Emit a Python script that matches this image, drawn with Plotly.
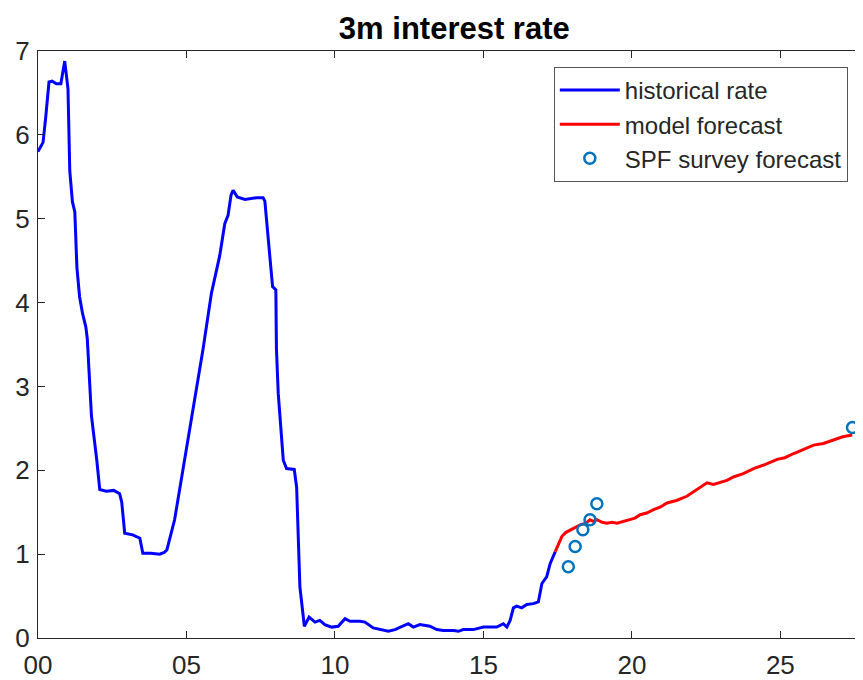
import plotly.graph_objects as go

# Historical 3m rate (x = years since 2000)
hist_x = [0.00, 0.17, 0.26, 0.37, 0.48, 0.62, 0.77, 0.90, 1.01, 1.07, 1.16, 1.24, 1.31, 1.40, 1.50,
          1.61, 1.66, 1.80, 1.98, 2.08, 2.30, 2.55, 2.75, 2.82, 2.92, 3.19, 3.43, 3.53, 3.80, 4.10,
          4.25, 4.34, 4.60, 4.94, 5.11, 5.35, 5.56, 5.84, 6.05, 6.12, 6.29, 6.40, 6.50, 6.57, 6.71,
          6.97, 7.36, 7.58, 7.64, 7.75, 7.81, 7.90, 8.01, 8.03, 8.09, 8.26, 8.37, 8.63, 8.71, 8.82,
          8.97, 9.13, 9.33, 9.49, 9.66, 9.89, 10.11, 10.34, 10.51, 10.84, 11.01, 11.29, 11.57, 11.80,
          12.02, 12.25, 12.47, 12.64, 12.86, 13.20, 13.43, 13.65, 13.99, 14.16, 14.32, 14.66, 15.00,
          15.45, 15.67, 15.79, 15.90, 16.01, 16.12, 16.29, 16.46, 16.68, 16.85, 16.97, 17.13, 17.25,
          17.42]
hist_y = [5.80, 5.91, 6.21, 6.63, 6.64, 6.61, 6.61, 6.88, 6.55, 5.57, 5.20, 5.08, 4.42, 4.07, 3.87,
          3.71, 3.57, 2.65, 2.12, 1.77, 1.75, 1.76, 1.72, 1.62, 1.25, 1.23, 1.19, 1.01, 1.01, 1.00,
          1.02, 1.05, 1.41, 2.12, 2.50, 3.02, 3.45, 4.11, 4.46, 4.56, 4.94, 5.04, 5.28, 5.34, 5.26,
          5.23, 5.25, 5.25, 5.21, 4.82, 4.54, 4.19, 4.15, 3.45, 2.92, 2.12, 2.02, 2.01, 1.80, 0.61,
          0.14, 0.25, 0.19, 0.21, 0.16, 0.13, 0.14, 0.23, 0.20, 0.20, 0.19, 0.12, 0.10, 0.08,
          0.10, 0.14, 0.17, 0.13, 0.16, 0.14, 0.10, 0.09, 0.09, 0.08, 0.10, 0.10, 0.13,
          0.13, 0.17, 0.13, 0.21, 0.36, 0.38, 0.36, 0.40, 0.41, 0.43, 0.65, 0.73, 0.89,
          1.03]

# Model forecast
fc_x = [17.42, 17.47, 17.56, 17.64, 17.78, 17.92, 18.10, 18.26, 18.45, 18.59, 18.70, 18.82, 19.00,
        19.16, 19.33, 19.50, 19.70, 19.89, 20.10, 20.28, 20.50, 20.73, 20.95, 21.18, 21.50, 21.85,
        22.20, 22.53, 22.75, 22.98, 23.20, 23.42, 23.75, 24.10, 24.50, 24.89, 25.15, 25.45, 25.80,
        26.12, 26.45, 26.80, 27.10, 27.42]
fc_y = [1.03, 1.07, 1.15, 1.21, 1.26, 1.29, 1.32, 1.35, 1.37, 1.41, 1.39, 1.41, 1.38,
        1.37, 1.38, 1.37, 1.39, 1.41, 1.43, 1.47, 1.49, 1.53, 1.56, 1.61, 1.64, 1.69,
        1.77, 1.85, 1.83, 1.86, 1.88, 1.92, 1.96, 2.02, 2.07, 2.13, 2.15, 2.20, 2.25,
        2.30, 2.32, 2.36, 2.40, 2.42]

# SPF survey forecast
spf_x = [17.86, 18.09, 18.35, 18.59, 18.82, 27.43]
spf_y = [0.85, 1.09, 1.29, 1.41, 1.60, 2.51]

x_tickvals = [0, 5, 10, 15, 20, 25]
x_ticktext = ["00", "05", "10", "15", "20", "25"]
y_tickvals = [0, 1, 2, 3, 4, 5, 6, 7]

FONT = "Liberation Sans, Arial, sans-serif"
AX = "#262626"

fig = go.Figure()
fig.add_trace(go.Scatter(x=hist_x, y=hist_y, mode="lines", name="historical rate",
                         line=dict(color="#0000FF", width=3)))
fig.add_trace(go.Scatter(x=fc_x, y=fc_y, mode="lines", name="model forecast",
                         line=dict(color="#FF0000", width=3)))
fig.add_trace(go.Scatter(x=spf_x, y=spf_y, mode="markers", name="SPF survey forecast",
                         marker=dict(symbol="circle-open", size=11, color="#0072BD",
                                     line=dict(width=2.5, color="#0072BD"))))

# page body has an 8px margin, so the figure is sized to the remaining viewport
fig.update_layout(
    width=855, height=672,
    margin=dict(l=30, r=1, t=43, b=42, autoexpand=False),
    paper_bgcolor="white", plot_bgcolor="white",
    title=dict(text="<b>3m interest rate</b>", x=0.522, xanchor="center", y=0.986, yanchor="top",
               font=dict(family=FONT, size=31, color="black")),
    font=dict(family=FONT, color=AX),
    showlegend=True,
    legend=dict(x=0.626, xanchor="left", y=0.973, yanchor="top",
                bgcolor="white", bordercolor="#555555", borderwidth=1,
                font=dict(family=FONT, size=24, color=AX), itemwidth=60,
                tracegroupgap=0),
)
fig.update_xaxes(range=[0, 27.75], tickvals=x_tickvals, ticktext=x_ticktext, automargin=False,
                 showgrid=False, zeroline=False, showline=True, linecolor=AX, linewidth=1,
                 mirror="ticks", ticks="inside", ticklen=7, tickcolor=AX, ticklabelstandoff=4,
                 tickfont=dict(family=FONT, size=26, color=AX))
fig.update_yaxes(range=[0, 7], tickvals=y_tickvals, automargin=False,
                 showgrid=False, zeroline=False, showline=True, linecolor=AX, linewidth=1,
                 mirror="ticks", ticks="inside", ticklen=7, tickcolor=AX, ticklabelstandoff=2,
                 tickfont=dict(family=FONT, size=26, color=AX))

fig.write_html("out.html")
